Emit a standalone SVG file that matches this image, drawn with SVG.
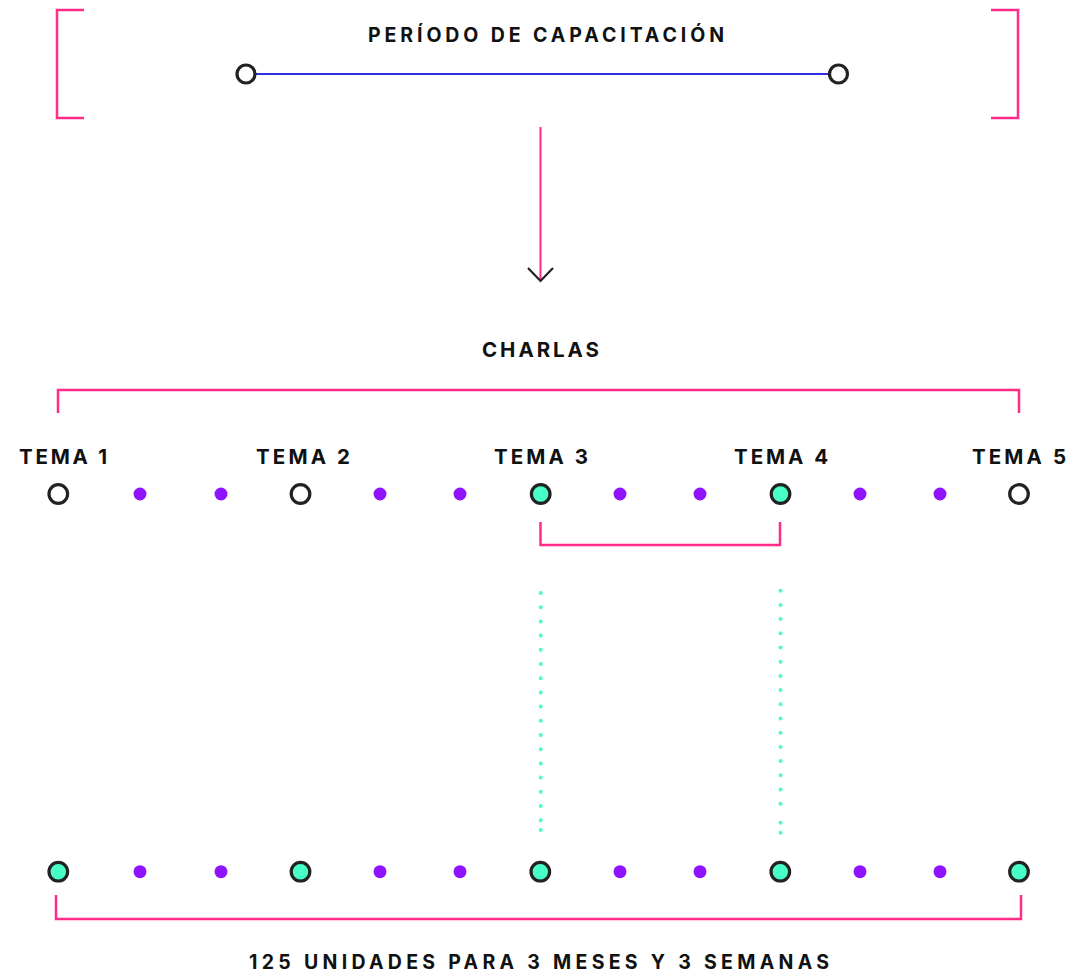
<svg xmlns="http://www.w3.org/2000/svg" width="1078" height="972" viewBox="0 0 1078 972">
<style>
.t{font-family:Inter,"Liberation Sans","DejaVu Sans",sans-serif;font-weight:700;fill:#111;}
.br{fill:none;stroke:#ff2d87;stroke-width:2.5;}
.ring{fill:#fff;stroke:#222;stroke-width:3.2;}
.full{fill:#47ffc7;stroke:#222;stroke-width:3.2;}
.dot{fill:#9013fe;}
.teal{fill:none;stroke:#47ffc7;stroke-width:4;stroke-linecap:round;stroke-dasharray:0 14.2;}
</style>
<rect width="1078" height="972" fill="#fff"/>
<g id="connectors">
<path class="br" d="M84,10 H57 V118 H84"/>
<path class="br" d="M991,10 H1018 V118 H991"/>
<line x1="256" y1="74" x2="829" y2="74" stroke="#2f2fe8" stroke-width="2"/>
<line x1="540.5" y1="127" x2="540.5" y2="281" stroke="#ff2d87" stroke-width="2"/>
<path d="M528,268 L540.5,281 L553,268" fill="none" stroke="#222" stroke-width="2.2"/>
<path class="br" d="M58,413 V390 H1019 V413"/>
<path class="br" d="M540.5,522 V545 H780 V522"/>
<path class="teal" d="M540.7,593 V820.2"/>
<path class="teal" d="M540.7,830 V830.01"/>
<path class="teal" d="M780.5,590.7 V808"/>
<path class="teal" d="M780.5,822.7 V822.71 M780.5,832.7 V832.71"/>
<path class="br" d="M56,895 V919 H1021 V895"/>
</g>
<g id="title">
<text class="t" x="368" y="42" font-size="19.5" textLength="356" lengthAdjust="spacing">PERÍODO DE CAPACITACIÓN</text>
</g>
<g id="start"><circle class="ring" cx="246" cy="74" r="9"/></g>
<g id="end"><circle class="ring" cx="838.5" cy="74" r="9"/></g>
<g id="charlas">
<text class="t" x="482" y="357" font-size="20.5" textLength="117" lengthAdjust="spacing">CHARLAS</text>
</g>
<g id="tema1"><text class="t" x="19" y="464" font-size="20.5" textLength="88" lengthAdjust="spacing">TEMA 1</text><circle class="ring" cx="58.3" cy="494" r="9.3"/></g>
<g id="tema2"><text class="t" x="256" y="464" font-size="20.5" textLength="94" lengthAdjust="spacing">TEMA 2</text><circle class="ring" cx="300.5" cy="494" r="9.3"/></g>
<g id="tema3"><text class="t" x="494" y="464" font-size="20.5" textLength="94" lengthAdjust="spacing">TEMA 3</text><circle class="full" cx="540.7" cy="494" r="9.3"/></g>
<g id="tema4"><text class="t" x="734" y="464" font-size="20.5" textLength="94" lengthAdjust="spacing">TEMA 4</text><circle class="full" cx="780.5" cy="494" r="9.3"/></g>
<g id="tema5"><text class="t" x="972" y="464" font-size="20.5" textLength="94" lengthAdjust="spacing">TEMA 5</text><circle class="ring" cx="1019" cy="494" r="9.3"/></g>
<g id="dots-top">
<circle class="dot" cx="140" cy="494" r="6.5"/><circle class="dot" cx="221" cy="494" r="6.5"/>
<circle class="dot" cx="380" cy="494" r="6.5"/><circle class="dot" cx="460" cy="494" r="6.5"/>
<circle class="dot" cx="620" cy="494" r="6.5"/><circle class="dot" cx="700" cy="494" r="6.5"/>
<circle class="dot" cx="860" cy="494" r="6.5"/><circle class="dot" cx="940" cy="494" r="6.5"/>
</g>
<g id="units">
<circle class="full" cx="58.3" cy="871.7" r="9.3"/>
<circle class="full" cx="300.5" cy="871.7" r="9.3"/>
<circle class="full" cx="540.3" cy="871.7" r="9.3"/>
<circle class="full" cx="780.3" cy="871.7" r="9.3"/>
<circle class="full" cx="1019" cy="871.7" r="9.3"/>
<circle class="dot" cx="140" cy="871.7" r="6.5"/><circle class="dot" cx="221" cy="871.7" r="6.5"/>
<circle class="dot" cx="380" cy="871.7" r="6.5"/><circle class="dot" cx="460" cy="871.7" r="6.5"/>
<circle class="dot" cx="620" cy="871.7" r="6.5"/><circle class="dot" cx="700" cy="871.7" r="6.5"/>
<circle class="dot" cx="860" cy="871.7" r="6.5"/><circle class="dot" cx="940" cy="871.7" r="6.5"/>
</g>
<g id="summary">
<text class="t" x="249" y="968.5" font-size="19.5" textLength="580" lengthAdjust="spacing">125 UNIDADES PARA 3 MESES Y 3 SEMANAS</text>
</g>
</svg>
